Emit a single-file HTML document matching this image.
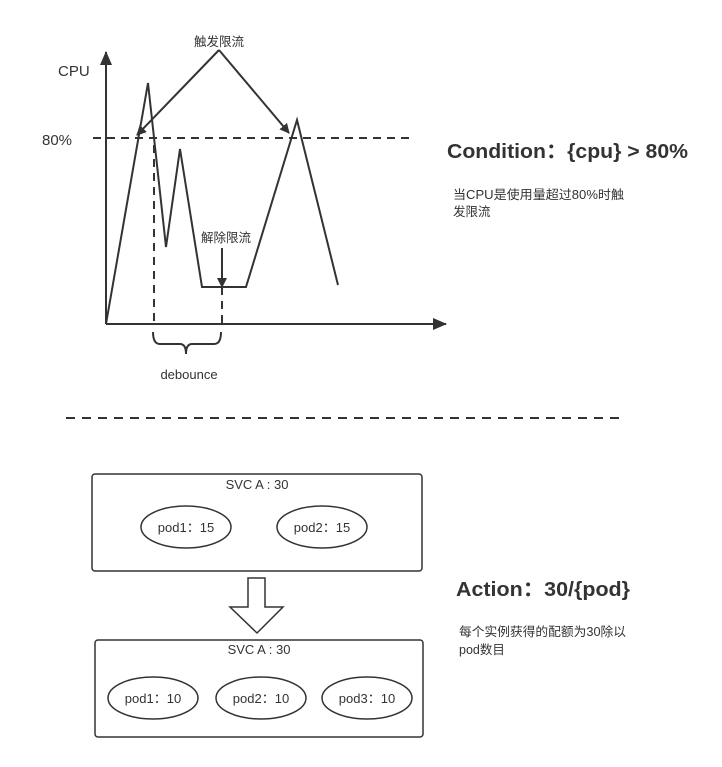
<!DOCTYPE html>
<html><head><meta charset="utf-8"><style>
html,body{margin:0;padding:0;background:#fff;}
svg text{font-family:"Liberation Sans","Noto Sans CJK SC",sans-serif;fill:#333;}
</style></head><body>
<svg width="722" height="762" viewBox="0 0 722 762" xmlns="http://www.w3.org/2000/svg">
<defs>
<marker id="ah" markerWidth="10" markerHeight="10" refX="9" refY="5" orient="auto" markerUnits="userSpaceOnUse"><path d="M0,0 L10,5 L0,10 Z" fill="#333"/></marker>
<marker id="ah2" markerWidth="14" markerHeight="12" refX="13" refY="6" orient="auto" markerUnits="userSpaceOnUse"><path d="M0,0 L14,6 L0,12 Z" fill="#333"/></marker>
</defs>
<g stroke="#333" stroke-width="2" fill="none">
<line x1="106" y1="324" x2="106" y2="52" marker-end="url(#ah2)"/>
<line x1="106" y1="324" x2="446" y2="324" marker-end="url(#ah2)"/>
<polyline points="106,324 148,83 166,247 180,149 202,287 246,287 297,120 338,285"/>
<line x1="93" y1="138" x2="413" y2="138" stroke-dasharray="8,6"/>
<line x1="154" y1="145" x2="154" y2="324" stroke-dasharray="8,6"/>
<line x1="222" y1="287" x2="222" y2="324" stroke-dasharray="8,6"/>
<line x1="219" y1="50" x2="137" y2="135" marker-end="url(#ah)"/>
<line x1="219" y1="50" x2="289" y2="133" marker-end="url(#ah)"/>
<line x1="222" y1="248" x2="222" y2="287" marker-end="url(#ah)"/>
<path d="M153,332 Q153,344 160,344 L180,344 Q186,344 186,354 Q186,344 192,344 L214,344 Q221,344 221,332"/>
<line x1="66" y1="418" x2="622" y2="418" stroke-dasharray="9,7"/>
</g>
<text x="219" y="46" font-size="12.5" text-anchor="middle">触发限流</text>
<text x="58" y="76" font-size="15">CPU</text>
<text x="42" y="145" font-size="15">80%</text>
<text x="226" y="242" font-size="12.5" text-anchor="middle">解除限流</text>
<text x="189" y="379" font-size="13" text-anchor="middle">debounce</text>
<text x="447" y="158" font-size="20.5" font-weight="bold" textLength="241" lengthAdjust="spacingAndGlyphs">Condition：{cpu} &gt; 80%</text>
<text x="453" y="199" font-size="12.5" textLength="171" lengthAdjust="spacingAndGlyphs">当CPU是使用量超过80%时触</text>
<text x="453" y="216" font-size="12.5">发限流</text>
<text x="456" y="596" font-size="20.5" font-weight="bold" textLength="174" lengthAdjust="spacingAndGlyphs">Action：30/{pod}</text>
<text x="459" y="636" font-size="12.5" textLength="167" lengthAdjust="spacingAndGlyphs">每个实例获得的配额为30除以</text>
<text x="459" y="654" font-size="12.5">pod数目</text>
<g stroke="#333" stroke-width="1.5" fill="none">
<rect x="92" y="474" width="330" height="97" rx="3"/>
<ellipse cx="186" cy="527" rx="45" ry="21"/>
<ellipse cx="322" cy="527" rx="45" ry="21"/>
<path d="M248,578 L265,578 L265,607 L283,607 L257,633 L230,607 L248,607 Z"/>
<rect x="95" y="640" width="328" height="97" rx="3"/>
<ellipse cx="153" cy="698" rx="45" ry="21"/>
<ellipse cx="261" cy="698" rx="45" ry="21"/>
<ellipse cx="367" cy="698" rx="45" ry="21"/>
</g>
<g font-size="13" text-anchor="middle">
<text x="257" y="489">SVC A : 30</text>
<text x="186" y="532">pod1：15</text>
<text x="322" y="532">pod2：15</text>
<text x="259" y="654">SVC A : 30</text>
<text x="153" y="703">pod1：10</text>
<text x="261" y="703">pod2：10</text>
<text x="367" y="703">pod3：10</text>
</g>
</svg>
</body></html>
